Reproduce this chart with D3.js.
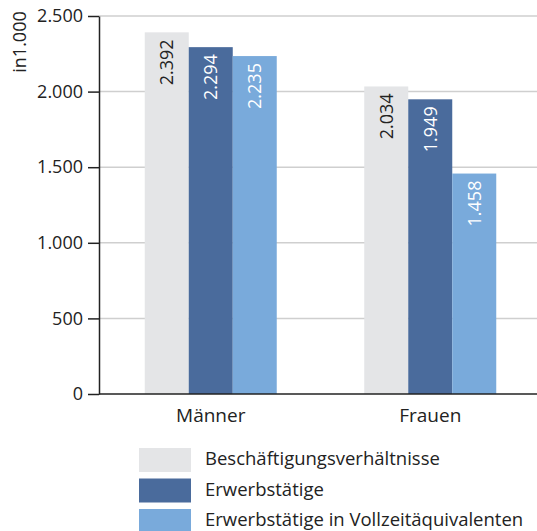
<!DOCTYPE html>
<html>
<head>
<meta charset="utf-8">
<script src="https://cdnjs.cloudflare.com/ajax/libs/d3/7.8.5/d3.min.js"></script>
<style>
  body { margin: 0; background: #fff; }
  text { font-family: "Open Sans", sans-serif; }
</style>
</head>
<body>
<svg width="537" height="531"></svg>
<script>
// data
var categories = ["Männer", "Frauen"];
var series = ["Beschäftigungsverhältnisse", "Erwerbstätige", "Erwerbstätige in Vollzeitäquivalenten"];
var werte = [
  [2392, 2294, 2235],   // Männer
  [2034, 1949, 1458]    // Frauen
];
var yTicks = [0, 500, 1000, 1500, 2000, 2500];
var farben = ["#e4e5e7", "#4a6b9c", "#79aadb"];
var labelFarben = ["#222", "#fff", "#fff"];

const svg = d3.select("svg");
const fmt = d3.format(",");
const deFmt = v => fmt(v).replace(/,/g, ".");

const y = d3.scaleLinear().domain([0, 2500]).range([394, 16]);
const x = d3.scalePoint().domain(categories).range([101, 540]).padding(0.5);
const xs = d3.scaleBand().domain(series).range([-66, 66]);

// gridlines
svg.append("g").selectAll("line")
  .data(yTicks.filter(d => d > 0))
  .enter().append("line")
  .attr("x1", 99).attr("x2", 537)
  .attr("y1", d => y(d)).attr("y2", d => y(d))
  .attr("stroke", "#cfcfcf").attr("stroke-width", 1.5);

// y axis
const yAxis = svg.append("g")
  .attr("transform", "translate(99,0)")
  .call(d3.axisLeft(y).tickValues(yTicks).tickFormat(deFmt).tickSize(11).tickSizeOuter(0));
yAxis.select(".domain").attr("stroke", "#222").attr("stroke-width", 1.5);
yAxis.selectAll(".tick line").attr("stroke", "#222").attr("stroke-width", 1.5);
yAxis.selectAll("text").attr("font-size", 18).attr("fill", "#222")
  .attr("font-family", "Open Sans, sans-serif").attr("x", -16);

svg.append("text")
  .text("in1.000")
  .attr("transform", "translate(26,42) rotate(-90)")
  .attr("text-anchor", "middle")
  .attr("font-size", 18)
  .attr("fill", "#222");

// bars
const groups = svg.selectAll(".grp")
  .data(categories)
  .enter().append("g")
  .attr("transform", d => "translate(" + x(d) + ",0)");

groups.selectAll("rect")
  .data((d, i) => werte[i].map((v, j) => ({v: v, s: series[j], j: j})))
  .enter().append("rect")
  .attr("x", d => xs(d.s))
  .attr("width", xs.bandwidth())
  .attr("y", d => y(d.v))
  .attr("height", d => y(0) - y(d.v))
  .attr("fill", d => farben[d.j]);

groups.selectAll(".lbl")
  .data((d, i) => werte[i].map((v, j) => ({v: v, s: series[j], j: j})))
  .enter().append("text")
  .attr("transform", d => "translate(" + (xs(d.s) + xs.bandwidth() / 2 + 6.5) + "," + (y(d.v) + 7) + ") rotate(-90)")
  .attr("text-anchor", "end")
  .attr("font-size", 18)
  .attr("fill", d => labelFarben[d.j])
  .text(d => deFmt(d.v));

// baseline
svg.append("line")
  .attr("x1", 99).attr("x2", 537)
  .attr("y1", y(0)).attr("y2", y(0))
  .attr("stroke", "#222").attr("stroke-width", 1.5);

// category labels
svg.selectAll(".cat")
  .data(categories)
  .enter().append("text")
  .attr("x", d => x(d))
  .attr("y", 422)
  .attr("text-anchor", "middle")
  .attr("font-size", 19)
  .attr("fill", "#222")
  .text(d => d);

// legend
const leg = svg.selectAll(".leg")
  .data(series)
  .enter().append("g")
  .attr("transform", (d, i) => "translate(139," + (448 + i * 30.5) + ")");
leg.append("rect").attr("width", 52).attr("height", 24).attr("fill", (d, i) => farben[i]);
leg.append("text").attr("x", 66).attr("y", 17).attr("font-size", 18.5).attr("fill", "#222").text(d => d);
</script>
</body>
</html>
